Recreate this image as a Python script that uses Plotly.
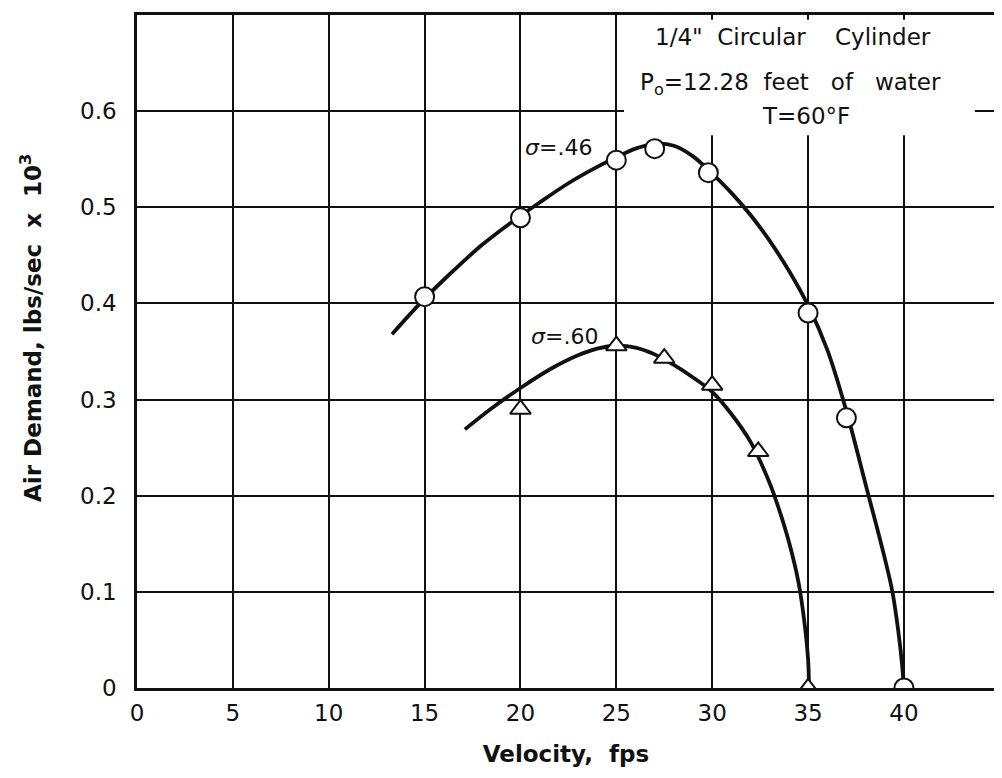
import plotly.graph_objects as go

# ---- data ----
# sigma = .46 : measured points (circles)
s46_x = [15, 20, 25, 27, 29.8, 35, 37, 40]
s46_y = [0.407, 0.489, 0.549, 0.561, 0.536, 0.39, 0.281, 0.0]
# sigma = .46 : faired curve
s46_curve_x = [13.3, 15, 16.5, 18, 19.5, 21, 22.5, 24, 25, 26, 27, 28, 29, 30, 31, 32, 33, 34, 35, 36, 37, 38, 39, 39.4, 39.7, 39.9, 40]
s46_curve_y = [0.368, 0.405, 0.434, 0.461, 0.484, 0.505, 0.525, 0.542, 0.552, 0.561, 0.566, 0.564, 0.553, 0.535, 0.515, 0.492, 0.465, 0.434, 0.398, 0.352, 0.288, 0.212, 0.135, 0.1, 0.06, 0.025, 0.0]

# sigma = .60 : measured points (triangles)
s60_x = [20, 25, 27.5, 30, 32.4, 35]
s60_y = [0.29, 0.356, 0.343, 0.315, 0.246, 0.0]
# sigma = .60 : faired curve
s60_curve_x = [17.1, 18.5, 20, 21.5, 23, 24, 25, 26, 27, 28, 29, 30, 31, 32, 33, 33.5, 34, 34.5, 34.8, 35, 35.05]
s60_curve_y = [0.269, 0.291, 0.312, 0.331, 0.346, 0.353, 0.356, 0.354, 0.347, 0.336, 0.323, 0.308, 0.285, 0.256, 0.213, 0.185, 0.152, 0.11, 0.07, 0.03, 0.0]

x_ticks = [0, 5, 10, 15, 20, 25, 30, 35, 40]
x_tick_labels = ["0", "5", "10", "15", "20", "25", "30", "35", "40"]
y_ticks = [0, 0.1, 0.2, 0.3, 0.4, 0.5, 0.6]
y_tick_labels = ["0", "0.1", "0.2", "0.3", "0.4", "0.5", "0.6"]

FONT = "DejaVu Sans"
INK = "#111111"

fig = go.Figure()

fig.add_trace(go.Scatter(x=s46_curve_x, y=s46_curve_y, mode="lines",
                         line=dict(color=INK, width=3.8, shape="spline", smoothing=1.0),
                         showlegend=False, hoverinfo="skip"))
fig.add_trace(go.Scatter(x=s60_curve_x, y=s60_curve_y, mode="lines",
                         line=dict(color=INK, width=3.8, shape="spline", smoothing=1.0),
                         showlegend=False, hoverinfo="skip"))
fig.add_trace(go.Scatter(x=s46_x, y=s46_y, mode="markers", name="σ=.46",
                         marker=dict(symbol="circle", size=19, color="white",
                                     line=dict(color=INK, width=2)),
                         showlegend=False))
fig.add_trace(go.Scatter(x=s60_x, y=s60_y, mode="markers", name="σ=.60",
                         marker=dict(symbol="triangle-up", size=18, color="white",
                                     line=dict(color=INK, width=2)),
                         showlegend=False))

# white panel behind the test-condition note (hides grid lines there)
fig.add_shape(type="rect", xref="x", yref="y", x0=25.4, x1=43.7, y0=0.575, y1=0.695,
              fillcolor="white", line=dict(width=0), layer="between")

note_font = dict(family=FONT, size=23, color=INK)
fig.add_annotation(xref="paper", yref="paper", x=(793 - 137) / 858, y=(688 - 37) / 673,
                   text="1/4\"  Circular    Cylinder", showarrow=False, font=note_font,
                   xanchor="center", yanchor="middle")
fig.add_annotation(xref="paper", yref="paper", x=(790 - 137) / 858, y=(688 - 84) / 673,
                   text="P<sub>o</sub>=12.28  feet   of   water", showarrow=False, font=note_font,
                   xanchor="center", yanchor="middle")
fig.add_annotation(xref="paper", yref="paper", x=(806 - 137) / 858, y=(688 - 116) / 673,
                   text="T=60°F", showarrow=False, font=note_font,
                   xanchor="center", yanchor="middle")

fig.add_annotation(x=22.0, y=0.562, text="<i>σ</i>=.46", showarrow=False,
                   font=dict(family=FONT, size=22, color=INK), xanchor="center", yanchor="middle")
fig.add_annotation(x=22.3, y=0.366, text="<i>σ</i>=.60", showarrow=False,
                   font=dict(family=FONT, size=22, color=INK), xanchor="center", yanchor="middle")

# y-axis title
fig.add_annotation(xref="paper", yref="paper", x=0, xshift=-106, y=(688 - 328) / 673,
                   text="Air Demand, lbs/sec  x  10<sup>3</sup>", textangle=-90, showarrow=False,
                   font=dict(family=FONT, size=23, color=INK, weight="bold"),
                   xanchor="center", yanchor="middle")

# the page body keeps an 8 px default margin, so the figure is sized to fill the rest
fig.update_layout(
    width=994, height=770,
    margin=dict(l=129, r=7, t=7, b=90),
    paper_bgcolor="white", plot_bgcolor="white",
    font=dict(family=FONT, color=INK),
    xaxis=dict(range=[0, 44.75], tickvals=x_ticks, ticktext=x_tick_labels, automargin=False,
               showgrid=True, gridcolor=INK, gridwidth=1.8, zeroline=False,
               showline=True, linecolor=INK, linewidth=2.5, mirror=True,
               ticks="", ticklabelstandoff=3, tickfont=dict(family=FONT, size=23, color=INK),
               title=dict(text="Velocity,  fps", standoff=21,
                          font=dict(family=FONT, size=23, color=INK, weight="bold"))),
    yaxis=dict(range=[0, 0.7], tickvals=y_ticks, ticktext=y_tick_labels, automargin=False,
               showgrid=True, gridcolor=INK, gridwidth=1.8, zeroline=False,
               showline=True, linecolor=INK, linewidth=2.5, mirror=True,
               ticks="", ticklabelstandoff=13, tickfont=dict(family=FONT, size=23, color=INK)),
)

fig.write_html("out.html")
